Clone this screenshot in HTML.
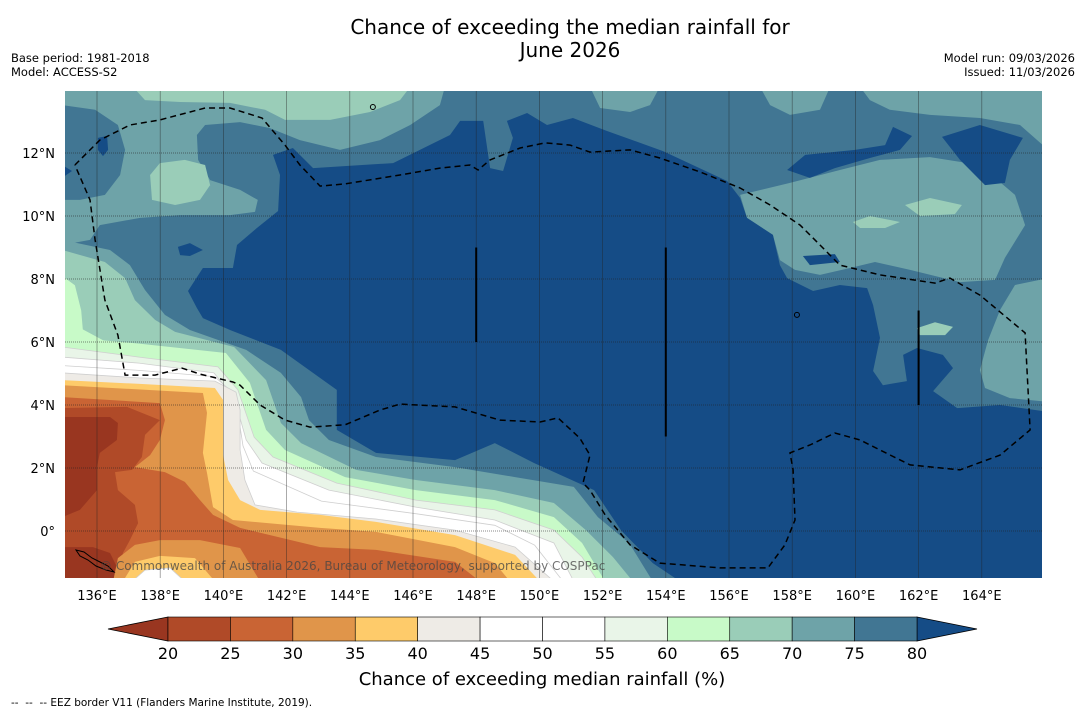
<!DOCTYPE html>
<html><head><meta charset="utf-8"><title>Chance of exceeding the median rainfall for June 2026</title>
<style>
html,body{margin:0;padding:0;background:#fff;}
body{width:1085px;height:713px;overflow:hidden;font-family:"DejaVu Sans","Liberation Sans",sans-serif;}
svg text{font-family:"DejaVu Sans","Liberation Sans",sans-serif;}
</style></head>
<body>
<svg id="chart" width="1085" height="713" viewBox="0 0 1085 713" xmlns="http://www.w3.org/2000/svg">
<defs><clipPath id="mapclip"><rect x="65" y="91" width="977" height="487"/></clipPath></defs>
<text x="570" y="34" font-size="20" text-anchor="middle" fill="#000">Chance of exceeding the median rainfall for</text>
<text x="570" y="57" font-size="20" text-anchor="middle" fill="#000">June 2026</text>
<text x="11" y="62" font-size="11.5" fill="#000">Base period: 1981-2018</text>
<text x="11" y="76" font-size="11.5" fill="#000">Model: ACCESS-S2</text>
<text x="1075" y="62" font-size="11.5" text-anchor="end" fill="#000">Model run: 09/03/2026</text>
<text x="1075" y="76" font-size="11.5" text-anchor="end" fill="#000">Issued: 11/03/2026</text>
<g id="map" clip-path="url(#mapclip)"></g>
<g id="axes"></g>
<g id="cbar"></g>
<text x="542" y="685" font-size="18" text-anchor="middle" fill="#000">Chance of exceeding median rainfall (%)</text>
<text x="11" y="706" font-size="10.5" fill="#000" xml:space="preserve">--  --  -- EEZ border V11 (Flanders Marine Institute, 2019).</text>
</svg>
<script>
// ---- colour levels ----
const levels = [20,25,30,35,40,45,50,55,60,65,70,75,80];
const levelColors = ["#b04a28","#c96434","#e0954a","#fecb6a","#eeebe6","#ffffff","#ffffff","#e9f5e8","#c8fac8","#9acdb8","#6ea3a8","#417693"];
const underColor = "#993620";
const overColor = "#154c86";
const lonTicks = [136,138,140,142,144,146,148,150,152,154,156,158,160,162,164];
const latTicks = [0,2,4,6,8,10,12];

// ---- contour regions [lon, lat] ----
const teal7075TopLeft = [[134.9,14.1],[147.01,14.1],[146.85,13.52],[145.91,12.89],[144.96,12.41],[143.69,12.10],[142.42,12.41],[141.47,12.79],[140.53,12.98],[139.42,12.89],[139.16,12.57],[139.2,11.78],[139.58,11.14],[140.53,10.83],[141.09,10.51],[141.0,10.13],[140.21,10.03],[138.63,10.03],[137.36,9.94],[136.09,9.71],[135.78,9.24],[134.9,9.08]];
const blue7580LeftTop = [[134.9,13.52],[135.94,13.37],[136.66,12.89],[136.89,12.10],[136.73,11.30],[136.25,10.67],[135.46,10.51],[134.9,10.51]];
const green6570Top = [[137.14,14.1],[145.91,14.1],[145.59,13.68],[144.64,13.30],[143.38,13.05],[141.95,13.05],[141.32,13.37],[140.21,13.59],[138.63,13.62],[137.52,13.68]];
const green6570Oval = [[137.68,11.30],[137.99,11.68],[138.78,11.78],[139.42,11.62],[139.58,10.98],[139.26,10.51],[138.47,10.35],[137.74,10.51]];
const tealTopA = [[151.6,14.1],[153.81,14.1],[153.5,13.52],[152.87,13.30],[151.92,13.43]];
const tealTopB = [[156.98,14.1],[159.2,14.1],[158.88,13.37],[157.93,13.21],[157.3,13.52]];
const tealTopC = [[160.15,14.1],[166.1,14.1],[166.1,12.10],[165.21,12.89],[163.94,13.11],[162.36,13.21],[161.09,13.37],[160.46,13.68]];
const tealMidRight = [[156.35,10.67],[157.93,11.05],[159.51,11.46],[160.78,11.78],[162.36,11.87],[163.94,11.62],[165.05,10.67],[165.37,9.71],[164.73,8.67],[164.42,7.97],[163.31,7.90],[161.73,8.29],[160.62,8.54],[159.83,8.35],[158.88,8.13],[158.09,8.29],[157.61,8.60],[157.39,9.40],[156.57,9.94]];
const tealRightEdge = [[166.1,8.03],[165.05,7.81],[164.58,7.02],[164.2,6.06],[163.94,5.11],[164.1,4.54],[164.89,4.22],[166.1,4.10]];
const greenRight1 = [[161.57,10.35],[162.36,10.57],[163.37,10.35],[163.15,10.06],[162.04,10.0]];
const greenRight2 = [[159.92,9.81],[160.46,10.0],[161.41,9.81],[160.94,9.62],[160.15,9.62]];
const greenRight3 = [[161.95,6.44],[162.52,6.63],[163.09,6.48],[162.84,6.22],[162.04,6.22]];
const darkMain = [[141.57,11.94],[142.2,12.16],[142.84,11.52],[145.37,11.68],[147.17,12.57],[147.49,13.02],[148.22,13.02],[148.44,11.52],[148.85,11.43],[149.16,12.48],[148.97,13.02],[149.61,13.27],[150.24,12.89],[151.06,13.11],[152.14,12.70],[153.91,12.06],[155.94,11.11],[156.35,10.57],[156.57,9.94],[157.39,9.40],[157.61,8.44],[157.84,8.03],[158.66,7.62],[159.51,7.81],[160.37,7.71],[160.56,7.17],[160.78,6.13],[160.56,5.08],[160.87,4.63],[161.63,4.76],[161.51,5.59],[161.95,5.81],[162.77,5.59],[163.09,5.17],[162.46,4.44],[163.22,3.90],[164.58,4.0],[166.1,3.78],[166.1,-1.6],[154.45,-1.6],[153.59,-1.02],[152.58,0.03],[151.73,1.30],[149.83,2.16],[148.59,2.79],[147.33,2.25],[144.83,2.48],[143.59,3.21],[143.59,4.48],[141.82,5.75],[140.21,6.38],[139.35,6.76],[139.16,7.08],[138.88,7.62],[139.35,8.35],[140.3,8.35],[140.43,9.08],[141.06,9.62],[141.73,10.16],[141.79,11.30]];
const darkSpot1 = [[136.03,12.48],[136.32,12.54],[136.35,12.10],[136.19,11.90],[136.03,12.10]];
const darkSpot2 = [[134.9,11.62],[135.21,11.43],[134.9,11.21]];
const darkSpot3 = [[138.56,9.02],[138.94,9.14],[139.35,8.92],[138.94,8.73],[138.63,8.76]];
const darkSpot4 = [[158.34,8.73],[159.35,8.79],[159.51,8.54],[158.56,8.44]];
const darkSpotA = [[157.84,11.46],[158.41,11.94],[159.99,12.10],[160.94,12.25],[161.19,12.83],[161.79,12.54],[161.41,12.10],[160.46,11.84],[159.35,11.52],[158.56,11.21]];
const darkSpotB = [[162.74,12.51],[163.94,12.89],[165.3,12.48],[164.89,11.78],[164.73,11.05],[164.1,10.98],[163.31,11.78]];
// dry band, each line from the west edge to the south edge (region closes at SW corner)
const band75 = [[134.9,9.24],[136.41,8.92],[137.04,8.44],[137.52,7.65],[138.15,6.86],[138.94,6.38],[140.72,5.75],[141.82,5.02],[142.46,4.25],[142.71,3.52],[143.34,2.89],[144.83,2.35],[147.33,2.03],[149.23,1.71],[151.09,1.40],[151.85,0.44],[152.84,-0.38],[153.59,-1.6]];
const band70 = [[134.9,8.92],[136.25,8.54],[136.89,8.03],[137.2,7.33],[137.84,6.70],[138.47,6.32],[140.34,5.84],[141.35,4.79],[141.82,3.43],[142.46,2.79],[144.2,1.94],[146.09,1.62],[148.59,1.30],[150.46,0.89],[151.47,0.03],[152.33,-0.83],[152.96,-1.6]];
const band65 = [[134.9,8.1],[135.3,7.8],[135.5,7.0],[135.55,6.4],[136.2,6.05],[137.33,5.95],[140.08,5.65],[140.84,4.70],[141.35,3.21],[141.95,2.57],[143.85,1.71],[146.09,1.30],[148.59,0.98],[150.46,0.44],[151.35,-0.38],[152.08,-1.6]];
const band60 = [[134.9,5.84],[137.33,5.52],[139.83,5.21],[140.46,4.48],[140.97,2.98],[141.57,2.35],[143.59,1.52],[146.09,0.98],[148.59,0.67],[150.46,0.03],[151.35,-0.83],[151.85,-1.6]];
const band55 = [[134.9,5.52],[137.33,5.33],[139.7,5.02],[140.34,4.25],[140.72,2.89],[141.22,2.16],[143.34,1.30],[146.09,0.76],[148.59,0.35],[150.46,-0.38],[151.09,-1.6]];
const band50 = [[134.9,5.25],[137.33,5.1],[139.72,4.9],[140.37,4.33],[140.62,2.7],[140.95,1.9],[143.1,0.95],[146.09,0.55],[148.59,0.18],[149.85,-0.45],[150.75,-1.6]];
const band45 = [[134.9,5.02],[137.33,4.86],[139.73,4.76],[140.4,4.41],[140.53,3.84],[140.53,2.57],[140.68,1.62],[141.0,0.83],[142.33,0.60],[144.83,0.38],[147.33,0.03],[149.23,-0.51],[150.46,-1.6]];
const band40 = [[134.9,4.79],[137.36,4.67],[139.73,4.54],[139.99,4.16],[139.99,2.41],[140.15,1.62],[140.53,0.98],[141.16,0.67],[143.06,0.51],[144.83,0.29],[147.33,-0.13],[149.23,-0.76],[150.02,-1.6]];
const band35 = [[134.9,4.63],[139.35,4.38],[139.48,3.75],[139.35,2.48],[139.48,1.84],[139.67,0.76],[140.3,0.35],[143.06,0.10],[144.83,-0.03],[147.33,-0.51],[148.59,-1.02],[149.07,-1.6]];
const band30 = [[134.9,4.25],[137.99,4.06],[138.15,3.52],[137.99,2.89],[137.68,2.41],[137.2,2.03],[138.15,1.87],[138.78,1.56],[139.26,0.98],[139.67,0.51],[140.53,0.10],[143.06,-0.51],[144.83,-0.60],[147.33,-0.98],[148.12,-1.6]];
const band25 = [[134.9,3.90],[136.95,3.94],[137.99,3.52],[137.52,3.05],[137.42,2.35],[137.11,1.94],[136.57,1.87],[136.66,1.30],[137.2,0.83],[137.3,0.25],[137.04,-0.29],[136.82,-0.70],[136.66,-1.6]];
const below20a = [[134.9,3.62],[136.41,3.62],[136.66,3.43],[136.63,2.89],[136.09,2.48],[136.0,2.03],[136.0,1.30],[135.46,0.67],[134.9,0.44]];
const below20b = [[134.9,-0.51],[135.87,-0.51],[136.41,-0.70],[136.63,-1.14],[136.63,-1.6],[134.9,-1.6]];
const blob30 = [[136.51,-1.6],[136.66,-0.86],[137.2,-0.44],[137.99,-0.29],[139.26,-0.29],[140.53,-0.54],[141.16,-1.6]];
const blob35 = [[136.82,-1.6],[137.2,-0.98],[137.99,-0.79],[139.1,-0.86],[139.73,-1.6]];
const blob45 = [[137.11,-1.6],[137.52,-1.24],[138.31,-1.17],[138.78,-1.6]];

// ---- EEZ border and lines ----
const eezBorder = [[135.30,11.62],[136.09,12.41],[137.04,12.89],[137.99,13.05],[139.42,13.43],[140.21,13.43],[141.22,13.11],[141.95,12.25],[142.42,11.62],[143.06,10.95],[143.85,11.02],[145.59,11.30],[146.85,11.52],[147.8,11.62],[148.06,11.46],[148.44,11.78],[149.39,12.16],[150.18,12.32],[150.97,12.25],[151.6,12.03],[152.87,12.10],[153.81,11.84],[155.08,11.40],[156.35,10.89],[157.3,10.35],[158.25,9.71],[158.88,9.08],[159.51,8.44],[160.78,8.13],[162.52,7.87],[162.99,8.03],[163.94,7.49],[165.37,6.29],[165.53,3.21],[164.58,2.41],[163.31,1.94],[161.73,2.10],[160.78,2.57],[160.15,2.89],[159.35,3.11],[158.56,2.73],[157.93,2.48],[158.03,1.94],[158.09,0.35],[157.77,-0.44],[157.23,-1.17],[155.72,-1.17],[153.81,-1.02],[152.87,-0.44],[152.08,0.51],[151.6,1.30],[151.38,1.52],[151.6,2.41],[151.28,2.95],[150.59,3.59],[150.02,3.46],[148.75,3.52],[147.33,3.94],[145.59,4.03],[144.96,3.84],[143.85,3.37],[142.74,3.30],[141.95,3.52],[141.16,4.0],[140.53,4.63],[140.3,4.73],[139.26,4.98],[138.69,5.17],[137.84,4.95],[136.89,4.95],[136.66,6.22],[136.25,7.33],[135.94,9.24],[135.78,10.51],[135.30,11.62]];
const solidLineLon = [148,154,162];
const solidLineLatTop = [9,9,7];
const solidLineLatBottom = [6,3,4];
const islands = [[144.73,13.46],[158.15,6.86]];

// ---- axis functions ----
function xScale(lon){ return 97 + (lon-136)*31.6; }
function yScale(lat){ return 531 - lat*31.5; }
const NS = "http://www.w3.org/2000/svg";
function mk(tag, parent){ const e=document.createElementNS(NS,tag); parent.appendChild(e); return e; }
function ptsStr(arr){ return arr.map(p=>xScale(p[0]).toFixed(1)+","+yScale(p[1]).toFixed(1)).join(" "); }
function bandPts(arr){ return arr.concat([[134.9,-1.6]]); }

const map = document.getElementById("map");
const bg = mk("rect", map);
bg.setAttribute("x", xScale(134.9)); bg.setAttribute("y", yScale(14.1));
bg.setAttribute("width", xScale(166.1)-xScale(134.9)); bg.setAttribute("height", yScale(-1.6)-yScale(14.1));
bg.setAttribute("fill", levelColors[11]);



const layers = [
 ["region-70-75-top-left", teal7075TopLeft, 10, false],
 ["region-75-80-left-top", blue7580LeftTop, 11, false],
 ["region-65-70-top", green6570Top, 9, false],
 ["region-65-70-oval", green6570Oval, 9, false],
 ["region-70-75-top-a", tealTopA, 10, false],
 ["region-70-75-top-b", tealTopB, 10, false],
 ["region-70-75-top-c", tealTopC, 10, false],
 ["region-70-75-mid-right", tealMidRight, 10, false],
 ["region-70-75-right-edge", tealRightEdge, 10, false],
 ["region-65-70-right-1", greenRight1, 9, false],
 ["region-65-70-right-2", greenRight2, 9, false],
 ["region-65-70-right-3", greenRight3, 9, false],
 ["region-above-80-main", darkMain, 12, false],
 ["region-above-80-spot-1", darkSpot1, 12, false],
 ["region-above-80-spot-2", darkSpot2, 12, false],
 ["region-above-80-spot-3", darkSpot3, 12, false],
 ["region-above-80-spot-4", darkSpot4, 12, false],
 ["region-above-80-spot-a", darkSpotA, 12, false],
 ["region-above-80-spot-b", darkSpotB, 12, false],
 ["band-70-75", band75, 10, true],
 ["band-65-70", band70, 9, true],
 ["band-60-65", band65, 8, true],
 ["band-55-60", band60, 7, true],
 ["band-50-55", band55, 6, true],
 ["band-45-50", band50, 5, true],
 ["band-40-45", band45, 4, true],
 ["band-35-40", band40, 3, true],
 ["band-30-35", band35, 2, true],
 ["band-25-30", band30, 1, true],
 ["band-20-25", band25, 0, true],
 ["region-below-20-a", below20a, -1, false],
 ["region-below-20-b", below20b, -1, false],
 ["blob-30-35", blob30, 2, true],
 ["blob-35-40", blob35, 3, true],
 ["blob-40-45", blob45, 5, true]
];
layers.forEach(L=>{
  const poly = mk("polygon", map);
  const pts = L[3] ? bandPts(L[1]) : L[1];
  poly.setAttribute("points", ptsStr(pts));
  const c = L[2] < 0 ? underColor : (L[2] >= 12 ? overColor : levelColors[L[2]]);
  poly.setAttribute("fill", c);
  if (L[2] >= 4 && L[2] <= 7) { poly.setAttribute("stroke", "#cfcfcf"); poly.setAttribute("stroke-width", "0.8"); }
  
  
});

// gridlines
lonTicks.forEach(lon=>{
  const l = mk("line", map);
  l.setAttribute("x1", xScale(lon)); l.setAttribute("x2", xScale(lon));
  l.setAttribute("y1", 91); l.setAttribute("y2", 578);
  l.setAttribute("stroke", "#222"); l.setAttribute("stroke-width", "0.7"); l.setAttribute("opacity", "0.55");
  
  
});
latTicks.forEach(lat=>{
  const l = mk("line", map);
  l.setAttribute("x1", 65); l.setAttribute("x2", 1042);
  l.setAttribute("y1", yScale(lat)); l.setAttribute("y2", yScale(lat));
  l.setAttribute("stroke", "#222"); l.setAttribute("stroke-width", "0.7"); l.setAttribute("stroke-dasharray", "1,1"); l.setAttribute("opacity", "0.7");
  
  
});

// EEZ border
const eez = mk("polyline", map);
eez.setAttribute("points", ptsStr(eezBorder));
eez.setAttribute("fill", "none"); eez.setAttribute("stroke", "#000"); eez.setAttribute("stroke-width", "1.5"); eez.setAttribute("stroke-dasharray", "6,4");



solidLineLon.forEach((lon,i)=>{
  const l = mk("line", map);
  l.setAttribute("x1", xScale(lon)); l.setAttribute("x2", xScale(lon));
  l.setAttribute("y1", yScale(solidLineLatTop[i])); l.setAttribute("y2", yScale(solidLineLatBottom[i]));
  l.setAttribute("stroke", "#000"); l.setAttribute("stroke-width", "2");
  
  
});
islands.forEach(p=>{
  const c = mk("circle", map);
  c.setAttribute("cx", xScale(p[0])); c.setAttribute("cy", yScale(p[1])); c.setAttribute("r", "2.5");
  c.setAttribute("fill", "none"); c.setAttribute("stroke", "#000"); c.setAttribute("stroke-width", "1");
  
  
});
const coast = mk("path", map);
coast.setAttribute("d", "M76,550 L84,552 L92,558 L100,562 L108,566 L114,572 L106,570 L96,566 L88,560 L80,556 Z");
coast.setAttribute("fill", "none"); coast.setAttribute("stroke", "#000"); coast.setAttribute("stroke-width", "1");



const copy = mk("text", map);
copy.setAttribute("x", 100); copy.setAttribute("y", 570); copy.setAttribute("font-size", "12"); copy.setAttribute("fill", "#444"); copy.setAttribute("opacity", "0.75");
copy.textContent = "\u00a9 Commonwealth of Australia 2026, Bureau of Meteorology, supported by COSPPac";



// axes labels
const axes = document.getElementById("axes");
lonTicks.forEach(lon=>{
  const t = mk("text", axes);
  t.setAttribute("x", xScale(lon)); t.setAttribute("y", 600); t.setAttribute("font-size", "13"); t.setAttribute("text-anchor", "middle");
  t.textContent = lon + "\u00b0E";
  
  
});
latTicks.forEach(lat=>{
  const t = mk("text", axes);
  t.setAttribute("x", 55); t.setAttribute("y", yScale(lat)+5); t.setAttribute("font-size", "13"); t.setAttribute("text-anchor", "end");
  t.textContent = lat === 0 ? "0\u00b0" : lat + "\u00b0N";
  
  
});

// colorbar
const cbar = document.getElementById("cbar");
function cbX(v){ return 168 + (v-20)*(917-168)/60; }
const cTop = 617, cBot = 641;
const triL = mk("polygon", cbar);
triL.setAttribute("points", `${cbX(20)},${cTop} 108,${(cTop+cBot)/2} ${cbX(20)},${cBot}`);
triL.setAttribute("fill", underColor); triL.setAttribute("stroke", "#000"); triL.setAttribute("stroke-width", "0.8");


const triR = mk("polygon", cbar);
triR.setAttribute("points", `${cbX(80)},${cTop} 977,${(cTop+cBot)/2} ${cbX(80)},${cBot}`);
triR.setAttribute("fill", overColor); triR.setAttribute("stroke", "#000"); triR.setAttribute("stroke-width", "0.8");


levelColors.forEach((c,i)=>{
  const r = mk("rect", cbar);
  r.setAttribute("x", cbX(levels[i])); r.setAttribute("y", cTop);
  r.setAttribute("width", cbX(levels[i+1])-cbX(levels[i])); r.setAttribute("height", cBot-cTop);
  r.setAttribute("fill", c); r.setAttribute("stroke", "#000"); r.setAttribute("stroke-width", "0.6");
  
  
});
levels.forEach(v=>{
  const t = mk("text", cbar);
  t.setAttribute("x", cbX(v)); t.setAttribute("y", 659); t.setAttribute("font-size", "16"); t.setAttribute("text-anchor", "middle");
  t.textContent = v;
  
  
});
</script>
</body></html>
